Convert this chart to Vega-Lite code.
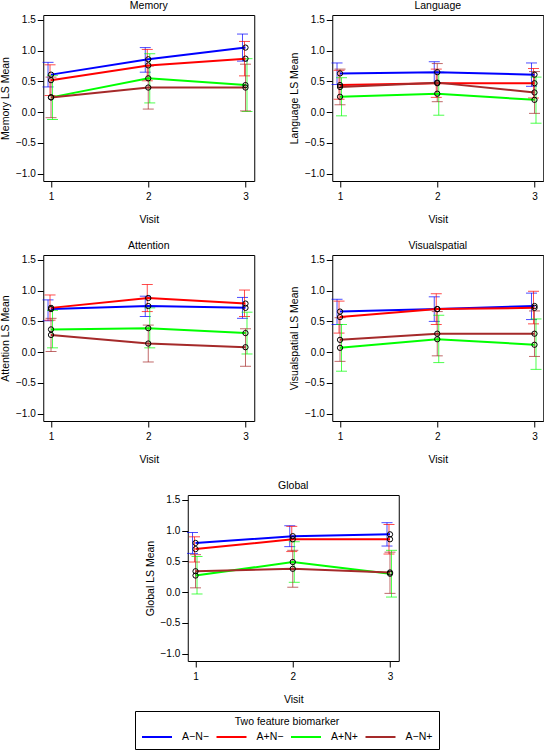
{
"$schema": "https://vega.github.io/schema/vega-lite/v6.json",
"padding": 0,
"background": "white",
"config": {
  "font": "Liberation Sans",
  "view": {"stroke": "black", "strokeWidth": 1},
  "axis": {"grid": false, "domain": false, "tickColor": "black", "labelColor": "black", "titleColor": "black", "labelFontSize": 10, "titleFontSize": 10.5, "titleFontWeight": "normal", "tickSize": 6, "labelPadding": 2, "labelOverlap": false},
  "axisY": {"titlePadding": 5, "values": [-1, -0.5, 0, 0.5, 1, 1.5], "format": ".1f", "labelOverlap": false, "tickCount": 6},
  "axisX": {"titlePadding": 13, "labelPadding": 4},
  "title": {"fontSize": 10.5, "fontWeight": "normal", "offset": 3, "anchor": "middle", "color": "black"},
  "legend": {"orient": "none", "legendX": 92, "legendY": 696, "direction": "horizontal", "columns": 4, "titleAnchor": "middle", "titleFontSize": 10.5, "titleFontWeight": "normal", "titleColor": "black", "labelFontSize": 10.5, "labelColor": "black", "symbolType": "M-1,0H3", "symbolSize": 225, "symbolStrokeWidth": 2, "symbolOpacity": 1, "symbolFillColor": "transparent", "labelOffset": 24, "columnPadding": 3.5, "strokeColor": "black", "padding": 6, "titlePadding": 1}
},
"data": {"values": [
{"p":"Memory","g":"A−N−","v":1,"m":0.61,"lo":0.41,"hi":0.81},
{"p":"Memory","g":"A−N−","v":2,"m":0.86,"lo":0.65,"hi":1.05},
{"p":"Memory","g":"A−N−","v":3,"m":1.05,"lo":0.83,"hi":1.27},
{"p":"Memory","g":"A+N−","v":1,"m":0.52,"lo":0.27,"hi":0.77},
{"p":"Memory","g":"A+N−","v":2,"m":0.76,"lo":0.51,"hi":1.02},
{"p":"Memory","g":"A+N−","v":3,"m":0.87,"lo":0.59,"hi":1.15},
{"p":"Memory","g":"A+N+","v":1,"m":0.24,"lo":-0.12,"hi":0.60},
{"p":"Memory","g":"A+N+","v":2,"m":0.55,"lo":0.15,"hi":0.95},
{"p":"Memory","g":"A+N+","v":3,"m":0.44,"lo":0.01,"hi":0.87},
{"p":"Memory","g":"A−N+","v":1,"m":0.24,"lo":-0.09,"hi":0.57},
{"p":"Memory","g":"A−N+","v":2,"m":0.40,"lo":0.05,"hi":0.75},
{"p":"Memory","g":"A−N+","v":3,"m":0.40,"lo":0.02,"hi":0.78},
{"p":"Language","g":"A−N−","v":1,"m":0.63,"lo":0.45,"hi":0.80},
{"p":"Language","g":"A−N−","v":2,"m":0.65,"lo":0.47,"hi":0.82},
{"p":"Language","g":"A−N−","v":3,"m":0.61,"lo":0.42,"hi":0.80},
{"p":"Language","g":"A+N−","v":1,"m":0.44,"lo":0.21,"hi":0.68},
{"p":"Language","g":"A+N−","v":2,"m":0.47,"lo":0.24,"hi":0.70},
{"p":"Language","g":"A+N−","v":3,"m":0.47,"lo":0.23,"hi":0.71},
{"p":"Language","g":"A+N+","v":1,"m":0.25,"lo":-0.06,"hi":0.56},
{"p":"Language","g":"A+N+","v":2,"m":0.30,"lo":-0.05,"hi":0.65},
{"p":"Language","g":"A+N+","v":3,"m":0.20,"lo":-0.18,"hi":0.57},
{"p":"Language","g":"A−N+","v":1,"m":0.41,"lo":0.12,"hi":0.70},
{"p":"Language","g":"A−N+","v":2,"m":0.48,"lo":0.17,"hi":0.79},
{"p":"Language","g":"A−N+","v":3,"m":0.32,"lo":-0.02,"hi":0.66},
{"p":"Attention","g":"A−N−","v":1,"m":0.70,"lo":0.51,"hi":0.85},
{"p":"Attention","g":"A−N−","v":2,"m":0.75,"lo":0.58,"hi":0.91},
{"p":"Attention","g":"A−N−","v":3,"m":0.72,"lo":0.55,"hi":0.89},
{"p":"Attention","g":"A+N−","v":1,"m":0.72,"lo":0.52,"hi":0.93},
{"p":"Attention","g":"A+N−","v":2,"m":0.88,"lo":0.66,"hi":1.10},
{"p":"Attention","g":"A+N−","v":3,"m":0.79,"lo":0.58,"hi":1.01},
{"p":"Attention","g":"A+N+","v":1,"m":0.37,"lo":0.07,"hi":0.68},
{"p":"Attention","g":"A+N+","v":2,"m":0.39,"lo":0.07,"hi":0.72},
{"p":"Attention","g":"A+N+","v":3,"m":0.31,"lo":-0.03,"hi":0.65},
{"p":"Attention","g":"A−N+","v":1,"m":0.28,"lo":0.01,"hi":0.55},
{"p":"Attention","g":"A−N+","v":2,"m":0.14,"lo":-0.16,"hi":0.44},
{"p":"Attention","g":"A−N+","v":3,"m":0.08,"lo":-0.23,"hi":0.38},
{"p":"Visualspatial","g":"A−N−","v":1,"m":0.66,"lo":0.45,"hi":0.86},
{"p":"Visualspatial","g":"A−N−","v":2,"m":0.70,"lo":0.50,"hi":0.90},
{"p":"Visualspatial","g":"A−N−","v":3,"m":0.75,"lo":0.53,"hi":0.96},
{"p":"Visualspatial","g":"A+N−","v":1,"m":0.57,"lo":0.31,"hi":0.83},
{"p":"Visualspatial","g":"A+N−","v":2,"m":0.70,"lo":0.45,"hi":0.95},
{"p":"Visualspatial","g":"A+N−","v":3,"m":0.72,"lo":0.46,"hi":0.99},
{"p":"Visualspatial","g":"A+N+","v":1,"m":0.07,"lo":-0.31,"hi":0.45},
{"p":"Visualspatial","g":"A+N+","v":2,"m":0.21,"lo":-0.17,"hi":0.60},
{"p":"Visualspatial","g":"A+N+","v":3,"m":0.12,"lo":-0.28,"hi":0.54},
{"p":"Visualspatial","g":"A−N+","v":1,"m":0.20,"lo":-0.15,"hi":0.56},
{"p":"Visualspatial","g":"A−N+","v":2,"m":0.30,"lo":-0.06,"hi":0.66},
{"p":"Visualspatial","g":"A−N+","v":3,"m":0.30,"lo":-0.07,"hi":0.67},
{"p":"Global","g":"A−N−","v":1,"m":0.80,"lo":0.63,"hi":0.97},
{"p":"Global","g":"A−N−","v":2,"m":0.91,"lo":0.74,"hi":1.08},
{"p":"Global","g":"A−N−","v":3,"m":0.94,"lo":0.75,"hi":1.13},
{"p":"Global","g":"A+N−","v":1,"m":0.70,"lo":0.49,"hi":0.90},
{"p":"Global","g":"A+N−","v":2,"m":0.86,"lo":0.66,"hi":1.07},
{"p":"Global","g":"A+N−","v":3,"m":0.86,"lo":0.62,"hi":1.10},
{"p":"Global","g":"A+N+","v":1,"m":0.27,"lo":-0.03,"hi":0.58},
{"p":"Global","g":"A+N+","v":2,"m":0.49,"lo":0.16,"hi":0.82},
{"p":"Global","g":"A+N+","v":3,"m":0.30,"lo":-0.08,"hi":0.68},
{"p":"Global","g":"A−N+","v":1,"m":0.34,"lo":0.07,"hi":0.61},
{"p":"Global","g":"A−N+","v":2,"m":0.38,"lo":0.08,"hi":0.68},
{"p":"Global","g":"A−N+","v":3,"m":0.32,"lo":-0.02,"hi":0.65}
]},
"spacing": 15,
"center": true,
"vconcat": [
{"spacing": 33, "hconcat": [
{"width": 211, "height": 166, "title": "Memory",
 "transform": [{"filter": "datum.p == 'Memory'"}],
 "encoding": {
   "x": {"field": "v", "type": "quantitative", "scale": {"domain": [0.92, 3.09], "nice": false, "zero": false}, "axis": {"values": [1, 2, 3], "format": "d", "title": "Visit"}},
   "color": {"field": "g", "type": "nominal", "title": "Two feature biomarker", "scale": {"domain": ["A−N−", "A+N−", "A+N+", "A−N+"], "range": ["#0000FF", "#FF0000", "#00FF00", "#A52A2A"]}}
 },
 "layer": [
  {"mark": {"type": "line", "strokeWidth": 2, "opacity": 0}, "encoding": {"y": {"field": "m", "type": "quantitative", "scale": {"domain": [-1.12, 1.58], "nice": false, "zero": false}, "axis": {"title": "Memory LS Mean", "values": [-1, -0.5, 0, 0.5, 1, 1.5], "format": ".1f", "labelOverlap": false}}}},
  {"transform": [{"filter": "datum.g == 'A−N−'"}], "layer": [
    {"mark": {"type": "rule", "xOffset": -3, "strokeWidth": 1, "opacity": 0.7}, "encoding": {"y": {"field": "lo", "type": "quantitative"}, "y2": {"field": "hi"}}},
    {"mark": {"type": "tick", "orient": "horizontal", "xOffset": -3, "size": 11, "thickness": 1, "opacity": 0.7}, "encoding": {"y": {"field": "lo", "type": "quantitative"}}},
    {"mark": {"type": "tick", "orient": "horizontal", "xOffset": -3, "size": 11, "thickness": 1, "opacity": 0.7}, "encoding": {"y": {"field": "hi", "type": "quantitative"}}}]},
  {"transform": [{"filter": "datum.g == 'A+N−'"}], "layer": [
    {"mark": {"type": "rule", "xOffset": -1, "strokeWidth": 1, "opacity": 0.7}, "encoding": {"y": {"field": "lo", "type": "quantitative"}, "y2": {"field": "hi"}}},
    {"mark": {"type": "tick", "orient": "horizontal", "xOffset": -1, "size": 11, "thickness": 1, "opacity": 0.7}, "encoding": {"y": {"field": "lo", "type": "quantitative"}}},
    {"mark": {"type": "tick", "orient": "horizontal", "xOffset": -1, "size": 11, "thickness": 1, "opacity": 0.7}, "encoding": {"y": {"field": "hi", "type": "quantitative"}}}]},
  {"transform": [{"filter": "datum.g == 'A+N+'"}], "layer": [
    {"mark": {"type": "rule", "xOffset": 1.5, "strokeWidth": 1, "opacity": 0.7}, "encoding": {"y": {"field": "lo", "type": "quantitative"}, "y2": {"field": "hi"}}},
    {"mark": {"type": "tick", "orient": "horizontal", "xOffset": 1.5, "size": 11, "thickness": 1, "opacity": 0.7}, "encoding": {"y": {"field": "lo", "type": "quantitative"}}},
    {"mark": {"type": "tick", "orient": "horizontal", "xOffset": 1.5, "size": 11, "thickness": 1, "opacity": 0.7}, "encoding": {"y": {"field": "hi", "type": "quantitative"}}}]},
  {"transform": [{"filter": "datum.g == 'A−N+'"}], "layer": [
    {"mark": {"type": "rule", "xOffset": 0, "strokeWidth": 1, "opacity": 0.7}, "encoding": {"y": {"field": "lo", "type": "quantitative"}, "y2": {"field": "hi"}}},
    {"mark": {"type": "tick", "orient": "horizontal", "xOffset": 0, "size": 11, "thickness": 1, "opacity": 0.7}, "encoding": {"y": {"field": "lo", "type": "quantitative"}}},
    {"mark": {"type": "tick", "orient": "horizontal", "xOffset": 0, "size": 11, "thickness": 1, "opacity": 0.7}, "encoding": {"y": {"field": "hi", "type": "quantitative"}}}]},
  {"mark": {"type": "line", "strokeWidth": 2}, "encoding": {"y": {"field": "m", "type": "quantitative"}}},
  {"mark": {"type": "point", "shape": "circle", "size": 28, "strokeWidth": 1, "filled": false, "opacity": 1}, "encoding": {"y": {"field": "m", "type": "quantitative"}, "color": {"value": "black"}}}
 ]},
{"width": 211, "height": 166, "title": "Language",
 "transform": [{"filter": "datum.p == 'Language'"}],
 "encoding": {
   "x": {"field": "v", "type": "quantitative", "scale": {"domain": [0.92, 3.09], "nice": false, "zero": false}, "axis": {"values": [1, 2, 3], "format": "d", "title": "Visit"}},
   "color": {"field": "g", "type": "nominal", "title": "Two feature biomarker", "scale": {"domain": ["A−N−", "A+N−", "A+N+", "A−N+"], "range": ["#0000FF", "#FF0000", "#00FF00", "#A52A2A"]}}
 },
 "layer": [
  {"mark": {"type": "line", "strokeWidth": 2, "opacity": 0}, "encoding": {"y": {"field": "m", "type": "quantitative", "scale": {"domain": [-1.12, 1.58], "nice": false, "zero": false}, "axis": {"title": "Language LS Mean", "values": [-1, -0.5, 0, 0.5, 1, 1.5], "format": ".1f", "labelOverlap": false}}}},
  {"transform": [{"filter": "datum.g == 'A−N−'"}], "layer": [
    {"mark": {"type": "rule", "xOffset": -3, "strokeWidth": 1, "opacity": 0.7}, "encoding": {"y": {"field": "lo", "type": "quantitative"}, "y2": {"field": "hi"}}},
    {"mark": {"type": "tick", "orient": "horizontal", "xOffset": -3, "size": 11, "thickness": 1, "opacity": 0.7}, "encoding": {"y": {"field": "lo", "type": "quantitative"}}},
    {"mark": {"type": "tick", "orient": "horizontal", "xOffset": -3, "size": 11, "thickness": 1, "opacity": 0.7}, "encoding": {"y": {"field": "hi", "type": "quantitative"}}}]},
  {"transform": [{"filter": "datum.g == 'A+N−'"}], "layer": [
    {"mark": {"type": "rule", "xOffset": -1, "strokeWidth": 1, "opacity": 0.7}, "encoding": {"y": {"field": "lo", "type": "quantitative"}, "y2": {"field": "hi"}}},
    {"mark": {"type": "tick", "orient": "horizontal", "xOffset": -1, "size": 11, "thickness": 1, "opacity": 0.7}, "encoding": {"y": {"field": "lo", "type": "quantitative"}}},
    {"mark": {"type": "tick", "orient": "horizontal", "xOffset": -1, "size": 11, "thickness": 1, "opacity": 0.7}, "encoding": {"y": {"field": "hi", "type": "quantitative"}}}]},
  {"transform": [{"filter": "datum.g == 'A+N+'"}], "layer": [
    {"mark": {"type": "rule", "xOffset": 1.5, "strokeWidth": 1, "opacity": 0.7}, "encoding": {"y": {"field": "lo", "type": "quantitative"}, "y2": {"field": "hi"}}},
    {"mark": {"type": "tick", "orient": "horizontal", "xOffset": 1.5, "size": 11, "thickness": 1, "opacity": 0.7}, "encoding": {"y": {"field": "lo", "type": "quantitative"}}},
    {"mark": {"type": "tick", "orient": "horizontal", "xOffset": 1.5, "size": 11, "thickness": 1, "opacity": 0.7}, "encoding": {"y": {"field": "hi", "type": "quantitative"}}}]},
  {"transform": [{"filter": "datum.g == 'A−N+'"}], "layer": [
    {"mark": {"type": "rule", "xOffset": 0, "strokeWidth": 1, "opacity": 0.7}, "encoding": {"y": {"field": "lo", "type": "quantitative"}, "y2": {"field": "hi"}}},
    {"mark": {"type": "tick", "orient": "horizontal", "xOffset": 0, "size": 11, "thickness": 1, "opacity": 0.7}, "encoding": {"y": {"field": "lo", "type": "quantitative"}}},
    {"mark": {"type": "tick", "orient": "horizontal", "xOffset": 0, "size": 11, "thickness": 1, "opacity": 0.7}, "encoding": {"y": {"field": "hi", "type": "quantitative"}}}]},
  {"mark": {"type": "line", "strokeWidth": 2}, "encoding": {"y": {"field": "m", "type": "quantitative"}}},
  {"mark": {"type": "point", "shape": "circle", "size": 28, "strokeWidth": 1, "filled": false, "opacity": 1}, "encoding": {"y": {"field": "m", "type": "quantitative"}, "color": {"value": "black"}}}
 ]}
]},
{"spacing": 33, "hconcat": [
{"width": 211, "height": 166, "title": "Attention",
 "transform": [{"filter": "datum.p == 'Attention'"}],
 "encoding": {
   "x": {"field": "v", "type": "quantitative", "scale": {"domain": [0.92, 3.09], "nice": false, "zero": false}, "axis": {"values": [1, 2, 3], "format": "d", "title": "Visit"}},
   "color": {"field": "g", "type": "nominal", "title": "Two feature biomarker", "scale": {"domain": ["A−N−", "A+N−", "A+N+", "A−N+"], "range": ["#0000FF", "#FF0000", "#00FF00", "#A52A2A"]}}
 },
 "layer": [
  {"mark": {"type": "line", "strokeWidth": 2, "opacity": 0}, "encoding": {"y": {"field": "m", "type": "quantitative", "scale": {"domain": [-1.12, 1.58], "nice": false, "zero": false}, "axis": {"title": "Attention LS Mean", "values": [-1, -0.5, 0, 0.5, 1, 1.5], "format": ".1f", "labelOverlap": false}}}},
  {"transform": [{"filter": "datum.g == 'A−N−'"}], "layer": [
    {"mark": {"type": "rule", "xOffset": -3, "strokeWidth": 1, "opacity": 0.7}, "encoding": {"y": {"field": "lo", "type": "quantitative"}, "y2": {"field": "hi"}}},
    {"mark": {"type": "tick", "orient": "horizontal", "xOffset": -3, "size": 11, "thickness": 1, "opacity": 0.7}, "encoding": {"y": {"field": "lo", "type": "quantitative"}}},
    {"mark": {"type": "tick", "orient": "horizontal", "xOffset": -3, "size": 11, "thickness": 1, "opacity": 0.7}, "encoding": {"y": {"field": "hi", "type": "quantitative"}}}]},
  {"transform": [{"filter": "datum.g == 'A+N−'"}], "layer": [
    {"mark": {"type": "rule", "xOffset": -1, "strokeWidth": 1, "opacity": 0.7}, "encoding": {"y": {"field": "lo", "type": "quantitative"}, "y2": {"field": "hi"}}},
    {"mark": {"type": "tick", "orient": "horizontal", "xOffset": -1, "size": 11, "thickness": 1, "opacity": 0.7}, "encoding": {"y": {"field": "lo", "type": "quantitative"}}},
    {"mark": {"type": "tick", "orient": "horizontal", "xOffset": -1, "size": 11, "thickness": 1, "opacity": 0.7}, "encoding": {"y": {"field": "hi", "type": "quantitative"}}}]},
  {"transform": [{"filter": "datum.g == 'A+N+'"}], "layer": [
    {"mark": {"type": "rule", "xOffset": 1.5, "strokeWidth": 1, "opacity": 0.7}, "encoding": {"y": {"field": "lo", "type": "quantitative"}, "y2": {"field": "hi"}}},
    {"mark": {"type": "tick", "orient": "horizontal", "xOffset": 1.5, "size": 11, "thickness": 1, "opacity": 0.7}, "encoding": {"y": {"field": "lo", "type": "quantitative"}}},
    {"mark": {"type": "tick", "orient": "horizontal", "xOffset": 1.5, "size": 11, "thickness": 1, "opacity": 0.7}, "encoding": {"y": {"field": "hi", "type": "quantitative"}}}]},
  {"transform": [{"filter": "datum.g == 'A−N+'"}], "layer": [
    {"mark": {"type": "rule", "xOffset": 0, "strokeWidth": 1, "opacity": 0.7}, "encoding": {"y": {"field": "lo", "type": "quantitative"}, "y2": {"field": "hi"}}},
    {"mark": {"type": "tick", "orient": "horizontal", "xOffset": 0, "size": 11, "thickness": 1, "opacity": 0.7}, "encoding": {"y": {"field": "lo", "type": "quantitative"}}},
    {"mark": {"type": "tick", "orient": "horizontal", "xOffset": 0, "size": 11, "thickness": 1, "opacity": 0.7}, "encoding": {"y": {"field": "hi", "type": "quantitative"}}}]},
  {"mark": {"type": "line", "strokeWidth": 2}, "encoding": {"y": {"field": "m", "type": "quantitative"}}},
  {"mark": {"type": "point", "shape": "circle", "size": 28, "strokeWidth": 1, "filled": false, "opacity": 1}, "encoding": {"y": {"field": "m", "type": "quantitative"}, "color": {"value": "black"}}}
 ]},
{"width": 211, "height": 166, "title": "Visualspatial",
 "transform": [{"filter": "datum.p == 'Visualspatial'"}],
 "encoding": {
   "x": {"field": "v", "type": "quantitative", "scale": {"domain": [0.92, 3.09], "nice": false, "zero": false}, "axis": {"values": [1, 2, 3], "format": "d", "title": "Visit"}},
   "color": {"field": "g", "type": "nominal", "title": "Two feature biomarker", "scale": {"domain": ["A−N−", "A+N−", "A+N+", "A−N+"], "range": ["#0000FF", "#FF0000", "#00FF00", "#A52A2A"]}}
 },
 "layer": [
  {"mark": {"type": "line", "strokeWidth": 2, "opacity": 0}, "encoding": {"y": {"field": "m", "type": "quantitative", "scale": {"domain": [-1.12, 1.58], "nice": false, "zero": false}, "axis": {"title": "Visualspatial LS Mean", "values": [-1, -0.5, 0, 0.5, 1, 1.5], "format": ".1f", "labelOverlap": false}}}},
  {"transform": [{"filter": "datum.g == 'A−N−'"}], "layer": [
    {"mark": {"type": "rule", "xOffset": -3, "strokeWidth": 1, "opacity": 0.7}, "encoding": {"y": {"field": "lo", "type": "quantitative"}, "y2": {"field": "hi"}}},
    {"mark": {"type": "tick", "orient": "horizontal", "xOffset": -3, "size": 11, "thickness": 1, "opacity": 0.7}, "encoding": {"y": {"field": "lo", "type": "quantitative"}}},
    {"mark": {"type": "tick", "orient": "horizontal", "xOffset": -3, "size": 11, "thickness": 1, "opacity": 0.7}, "encoding": {"y": {"field": "hi", "type": "quantitative"}}}]},
  {"transform": [{"filter": "datum.g == 'A+N−'"}], "layer": [
    {"mark": {"type": "rule", "xOffset": -1, "strokeWidth": 1, "opacity": 0.7}, "encoding": {"y": {"field": "lo", "type": "quantitative"}, "y2": {"field": "hi"}}},
    {"mark": {"type": "tick", "orient": "horizontal", "xOffset": -1, "size": 11, "thickness": 1, "opacity": 0.7}, "encoding": {"y": {"field": "lo", "type": "quantitative"}}},
    {"mark": {"type": "tick", "orient": "horizontal", "xOffset": -1, "size": 11, "thickness": 1, "opacity": 0.7}, "encoding": {"y": {"field": "hi", "type": "quantitative"}}}]},
  {"transform": [{"filter": "datum.g == 'A+N+'"}], "layer": [
    {"mark": {"type": "rule", "xOffset": 1.5, "strokeWidth": 1, "opacity": 0.7}, "encoding": {"y": {"field": "lo", "type": "quantitative"}, "y2": {"field": "hi"}}},
    {"mark": {"type": "tick", "orient": "horizontal", "xOffset": 1.5, "size": 11, "thickness": 1, "opacity": 0.7}, "encoding": {"y": {"field": "lo", "type": "quantitative"}}},
    {"mark": {"type": "tick", "orient": "horizontal", "xOffset": 1.5, "size": 11, "thickness": 1, "opacity": 0.7}, "encoding": {"y": {"field": "hi", "type": "quantitative"}}}]},
  {"transform": [{"filter": "datum.g == 'A−N+'"}], "layer": [
    {"mark": {"type": "rule", "xOffset": 0, "strokeWidth": 1, "opacity": 0.7}, "encoding": {"y": {"field": "lo", "type": "quantitative"}, "y2": {"field": "hi"}}},
    {"mark": {"type": "tick", "orient": "horizontal", "xOffset": 0, "size": 11, "thickness": 1, "opacity": 0.7}, "encoding": {"y": {"field": "lo", "type": "quantitative"}}},
    {"mark": {"type": "tick", "orient": "horizontal", "xOffset": 0, "size": 11, "thickness": 1, "opacity": 0.7}, "encoding": {"y": {"field": "hi", "type": "quantitative"}}}]},
  {"mark": {"type": "line", "strokeWidth": 2}, "encoding": {"y": {"field": "m", "type": "quantitative"}}},
  {"mark": {"type": "point", "shape": "circle", "size": 28, "strokeWidth": 1, "filled": false, "opacity": 1}, "encoding": {"y": {"field": "m", "type": "quantitative"}, "color": {"value": "black"}}}
 ]}
]},
{"width": 211, "height": 166, "title": "Global",
 "transform": [{"filter": "datum.p == 'Global'"}],
 "encoding": {
   "x": {"field": "v", "type": "quantitative", "scale": {"domain": [0.92, 3.09], "nice": false, "zero": false}, "axis": {"values": [1, 2, 3], "format": "d", "title": "Visit"}},
   "color": {"field": "g", "type": "nominal", "title": "Two feature biomarker", "scale": {"domain": ["A−N−", "A+N−", "A+N+", "A−N+"], "range": ["#0000FF", "#FF0000", "#00FF00", "#A52A2A"]}}
 },
 "layer": [
  {"mark": {"type": "line", "strokeWidth": 2, "opacity": 0}, "encoding": {"y": {"field": "m", "type": "quantitative", "scale": {"domain": [-1.12, 1.58], "nice": false, "zero": false}, "axis": {"title": "Global LS Mean", "values": [-1, -0.5, 0, 0.5, 1, 1.5], "format": ".1f", "labelOverlap": false}}}},
  {"transform": [{"filter": "datum.g == 'A−N−'"}], "layer": [
    {"mark": {"type": "rule", "xOffset": -3, "strokeWidth": 1, "opacity": 0.7}, "encoding": {"y": {"field": "lo", "type": "quantitative"}, "y2": {"field": "hi"}}},
    {"mark": {"type": "tick", "orient": "horizontal", "xOffset": -3, "size": 11, "thickness": 1, "opacity": 0.7}, "encoding": {"y": {"field": "lo", "type": "quantitative"}}},
    {"mark": {"type": "tick", "orient": "horizontal", "xOffset": -3, "size": 11, "thickness": 1, "opacity": 0.7}, "encoding": {"y": {"field": "hi", "type": "quantitative"}}}]},
  {"transform": [{"filter": "datum.g == 'A+N−'"}], "layer": [
    {"mark": {"type": "rule", "xOffset": -1, "strokeWidth": 1, "opacity": 0.7}, "encoding": {"y": {"field": "lo", "type": "quantitative"}, "y2": {"field": "hi"}}},
    {"mark": {"type": "tick", "orient": "horizontal", "xOffset": -1, "size": 11, "thickness": 1, "opacity": 0.7}, "encoding": {"y": {"field": "lo", "type": "quantitative"}}},
    {"mark": {"type": "tick", "orient": "horizontal", "xOffset": -1, "size": 11, "thickness": 1, "opacity": 0.7}, "encoding": {"y": {"field": "hi", "type": "quantitative"}}}]},
  {"transform": [{"filter": "datum.g == 'A+N+'"}], "layer": [
    {"mark": {"type": "rule", "xOffset": 1.5, "strokeWidth": 1, "opacity": 0.7}, "encoding": {"y": {"field": "lo", "type": "quantitative"}, "y2": {"field": "hi"}}},
    {"mark": {"type": "tick", "orient": "horizontal", "xOffset": 1.5, "size": 11, "thickness": 1, "opacity": 0.7}, "encoding": {"y": {"field": "lo", "type": "quantitative"}}},
    {"mark": {"type": "tick", "orient": "horizontal", "xOffset": 1.5, "size": 11, "thickness": 1, "opacity": 0.7}, "encoding": {"y": {"field": "hi", "type": "quantitative"}}}]},
  {"transform": [{"filter": "datum.g == 'A−N+'"}], "layer": [
    {"mark": {"type": "rule", "xOffset": 0, "strokeWidth": 1, "opacity": 0.7}, "encoding": {"y": {"field": "lo", "type": "quantitative"}, "y2": {"field": "hi"}}},
    {"mark": {"type": "tick", "orient": "horizontal", "xOffset": 0, "size": 11, "thickness": 1, "opacity": 0.7}, "encoding": {"y": {"field": "lo", "type": "quantitative"}}},
    {"mark": {"type": "tick", "orient": "horizontal", "xOffset": 0, "size": 11, "thickness": 1, "opacity": 0.7}, "encoding": {"y": {"field": "hi", "type": "quantitative"}}}]},
  {"mark": {"type": "line", "strokeWidth": 2}, "encoding": {"y": {"field": "m", "type": "quantitative"}}},
  {"mark": {"type": "point", "shape": "circle", "size": 28, "strokeWidth": 1, "filled": false, "opacity": 1}, "encoding": {"y": {"field": "m", "type": "quantitative"}, "color": {"value": "black"}}}
 ]}
]
}
